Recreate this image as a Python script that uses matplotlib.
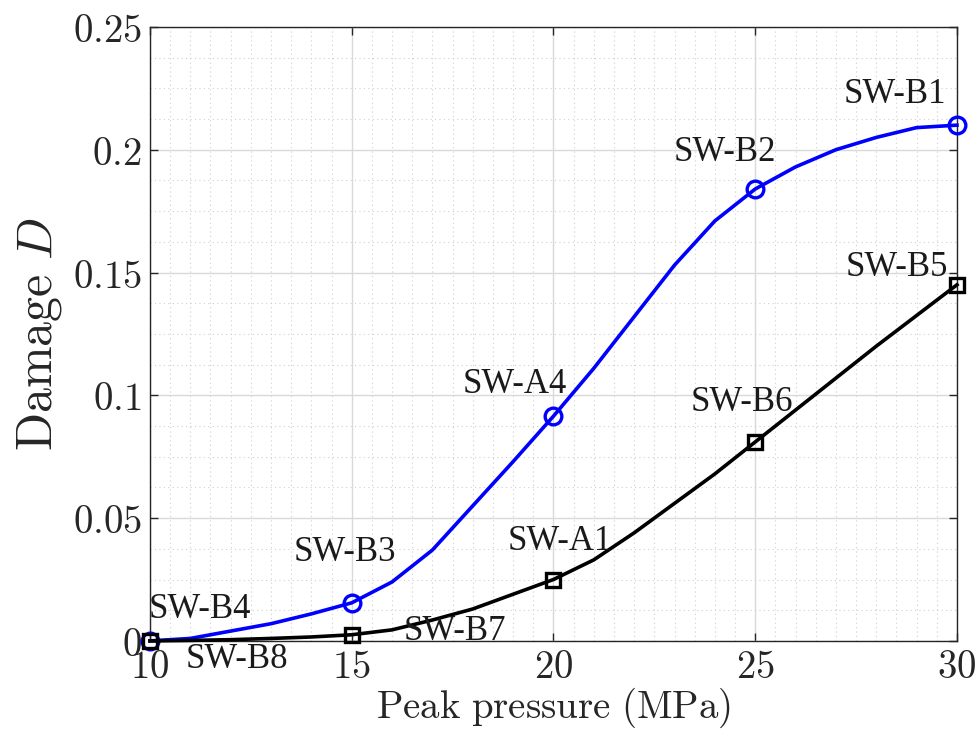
import matplotlib
matplotlib.use("Agg")
import matplotlib.pyplot as plt
import numpy as np
from matplotlib.ticker import MultipleLocator

plt.rcParams["mathtext.fontset"] = "cm"

# damage vs. peak pressure, sampled at 1 MPa steps
pressure = np.arange(10, 31)
damage_blue = [0.0, 0.001, 0.004, 0.007, 0.011, 0.0155, 0.024, 0.037, 0.055, 0.073,
               0.0915, 0.111, 0.132, 0.153, 0.171, 0.184, 0.193, 0.200, 0.205, 0.209, 0.210]
damage_black = [0.0, 0.0002, 0.0005, 0.001, 0.0016, 0.0025, 0.0045, 0.0085, 0.013, 0.019,
                0.025, 0.033, 0.044, 0.056, 0.068, 0.081, 0.094, 0.107, 0.120, 0.1325, 0.145]

# specimen labels (x, y, text)
labels_blue = [(28.46, 0.2223, "SW-B1"), (24.25, 0.199, "SW-B2"), (19.05, 0.1046, "SW-A4"),
               (14.83, 0.0358, "SW-B3"), (11.24, 0.0126, "SW-B4")]
labels_black = [(28.51, 0.152, "SW-B5"), (24.67, 0.0969, "SW-B6"), (20.16, 0.0403, "SW-A1"),
                (17.56, 0.0037, "SW-B7"), (12.16, -0.0077, "SW-B8")]

xticks = [10, 15, 20, 25, 30]
yticks = [0, 0.05, 0.1, 0.15, 0.2, 0.25]
ytick_text = ["0", "0.05", "0.1", "0.15", "0.2", "0.25"]

fig = plt.figure(figsize=(9.8, 7.54), dpi=100)
ax = fig.add_axes([0.153, 0.150, 0.8235, 0.8143])

mark_idx = [0, 5, 10, 15, 20]
ax.plot(pressure, damage_blue, color="#0000ff", lw=2.6, marker="o", markevery=mark_idx,
        ms=12, mfc="none", mew=2.4, clip_on=False, zorder=3)
ax.plot(pressure, damage_black, color="black", lw=2.6, marker="s", markevery=mark_idx,
        ms=10, mfc="none", mew=2.4, clip_on=False, zorder=3)

for x, y, t in labels_blue + labels_black:
    ax.text(x, y, t, ha="center", va="center", fontsize=25,
            family="Liberation Serif", color="#1a1a1a", zorder=4)

ax.set_xlim(10, 30)
ax.set_ylim(0, 0.25)
ax.set_xticks(xticks)
ax.set_xticklabels([f"${v}$" for v in xticks], fontsize=28)
ax.set_yticks(yticks)
ax.set_yticklabels([f"${v}$" for v in ytick_text], fontsize=28)
ax.xaxis.set_minor_locator(MultipleLocator(0.5))
ax.yaxis.set_minor_locator(MultipleLocator(0.0125))

ax.grid(which="major", color="#d9d9d9", lw=1.0, ls="-")
ax.grid(which="minor", color="#cfcfcf", lw=0.8, ls=(0, (1, 3)))
ax.set_axisbelow(True)

ax.tick_params(which="major", direction="in", length=6, width=1.0, top=True, right=True,
               color="#262626", labelcolor="#262626", pad=6)
ax.tick_params(axis="x", which="major", pad=5)
ax.tick_params(which="minor", length=0, top=True, right=True)
for s in ax.spines.values():
    s.set_color("#262626")
    s.set_linewidth(1.0)

ax.set_xlabel(r"$\mathrm{Peak\ pressure\ (MPa)}$", fontsize=28, labelpad=0, color="#262626")
ax.set_ylabel(r"$\mathrm{Damage}\ D$", fontsize=36, labelpad=6, color="#262626")

fig.savefig("out.png", dpi=100)
